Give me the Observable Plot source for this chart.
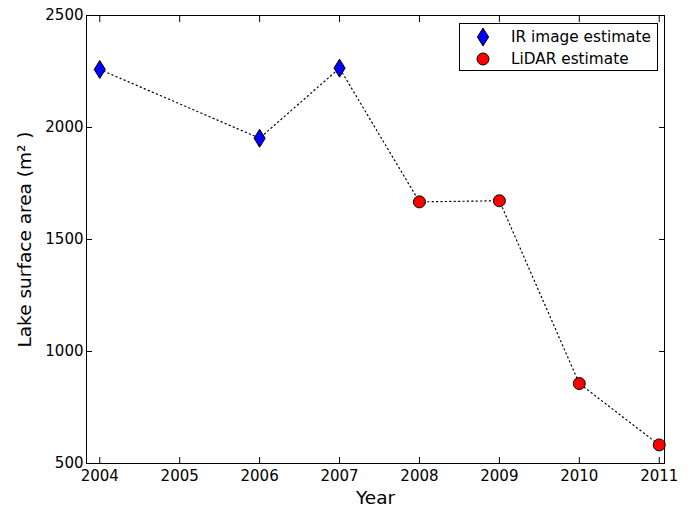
<!DOCTYPE html>
<html><head><meta charset="utf-8">
<script src="https://cdn.jsdelivr.net/npm/d3@7"></script>
<script src="https://cdn.jsdelivr.net/npm/@observablehq/plot@0.6"></script>
<style>
body{margin:0;background:#fff;font-family:"DejaVu Sans",sans-serif;}
#wrap{position:relative;width:692px;height:509px;}
#legend{position:absolute;left:459px;top:23px;width:199px;height:48px;box-sizing:border-box;border:1px solid #000;background:#fff;}
.entry{position:absolute;left:0;height:22px;width:100%;}
.entry svg{position:absolute;left:12px;top:0;}
.entry span{position:absolute;left:51px;top:2px;font-size:15.3px;line-height:18px;color:#000;white-space:nowrap;}
</style>
</head><body><div id="wrap"></div>
<script>
// ---- data ----
const irYears = [2004, 2006, 2007];
const irArea = [2259, 1952, 2265];
const lidarYears = [2008, 2009, 2010, 2011];
const lidarArea = [1668, 1673, 857, 583];
const xTicks = [2004, 2005, 2006, 2007, 2008, 2009, 2010, 2011];
const yTicks = [500, 1000, 1500, 2000, 2500];
const seriesNames = ["IR image estimate", "LiDAR estimate"];
const seriesColors = ["blue", "red"];

const ir = irYears.map((x, i) => ({year: x, area: irArea[i]}));
const lidar = lidarYears.map((x, i) => ({year: x, area: lidarArea[i]}));
const all = ir.concat(lidar);

const thinDiamond = {
  draw(ctx, size) {
    const h = Math.sqrt(size / Math.PI);
    const w = h * 0.62;
    ctx.moveTo(0, -h); ctx.lineTo(w, 0); ctx.lineTo(0, h); ctx.lineTo(-w, 0); ctx.closePath();
  }
};

const chart = Plot.plot({
  width: 692, height: 509,
  marginLeft: 86, marginRight: 28, marginTop: 15, marginBottom: 46,
  style: {fontFamily: "DejaVu Sans", fontSize: "15px", color: "black", background: "white"},
  x: {domain: [2003.834, 2011.066]},
  y: {domain: [500, 2500]},
  marks: [
    Plot.axisX({ticks: xTicks, tickFormat: d => String(d), tickSize: -6, tickPadding: 13, label: null, fontSize: 15}),
    Plot.axisX({anchor: "top", ticks: xTicks, tickFormat: () => "", tickSize: -6, label: null}),
    Plot.axisY({ticks: yTicks, tickFormat: d => String(d), tickSize: -6, tickPadding: 9, label: null, fontSize: 15}),
    Plot.axisY({anchor: "right", ticks: yTicks, tickFormat: () => "", tickSize: -6, label: null}),
    Plot.axisX({ticks: [], label: "Year", labelArrow: "none", labelAnchor: "center", labelOffset: 40, fontSize: 18.5}),
    Plot.axisY({ticks: [], label: "Lake surface area (m² )", labelArrow: "none", labelAnchor: "center", labelOffset: 69, fontSize: 18.5}),
    Plot.frame({stroke: "black", strokeWidth: 1}),
    Plot.line(all, {x: "year", y: "area", stroke: "black", strokeWidth: 1.2, strokeDasharray: "1.2,3.2"}),
    Plot.dot(ir, {x: "year", y: "area", symbol: thinDiamond, r: 9, fill: seriesColors[0], stroke: "black", strokeWidth: 1}),
    Plot.dot(lidar, {x: "year", y: "area", r: 6, fill: seriesColors[1], stroke: "black", strokeWidth: 1})
  ]
});
const wrap = document.getElementById("wrap");
wrap.appendChild(chart);

// legend
const legend = document.createElement("div");
legend.id = "legend";
seriesNames.forEach((name, i) => {
  const e = document.createElement("div");
  e.className = "entry";
  e.style.top = (i * 22 + 2) + "px";
  const sym = i === 0
    ? `<svg width="22" height="22" viewBox="-11 -11 22 22"><path d="M0,-9L5.6,0L0,9L-5.6,0Z" fill="${seriesColors[i]}" stroke="black"/></svg>`
    : `<svg width="22" height="22" viewBox="-11 -11 22 22"><circle r="6" fill="${seriesColors[i]}" stroke="black"/></svg>`;
  e.innerHTML = sym + `<span>${name}</span>`;
  legend.appendChild(e);
});
wrap.appendChild(legend);
</script>
</body></html>
